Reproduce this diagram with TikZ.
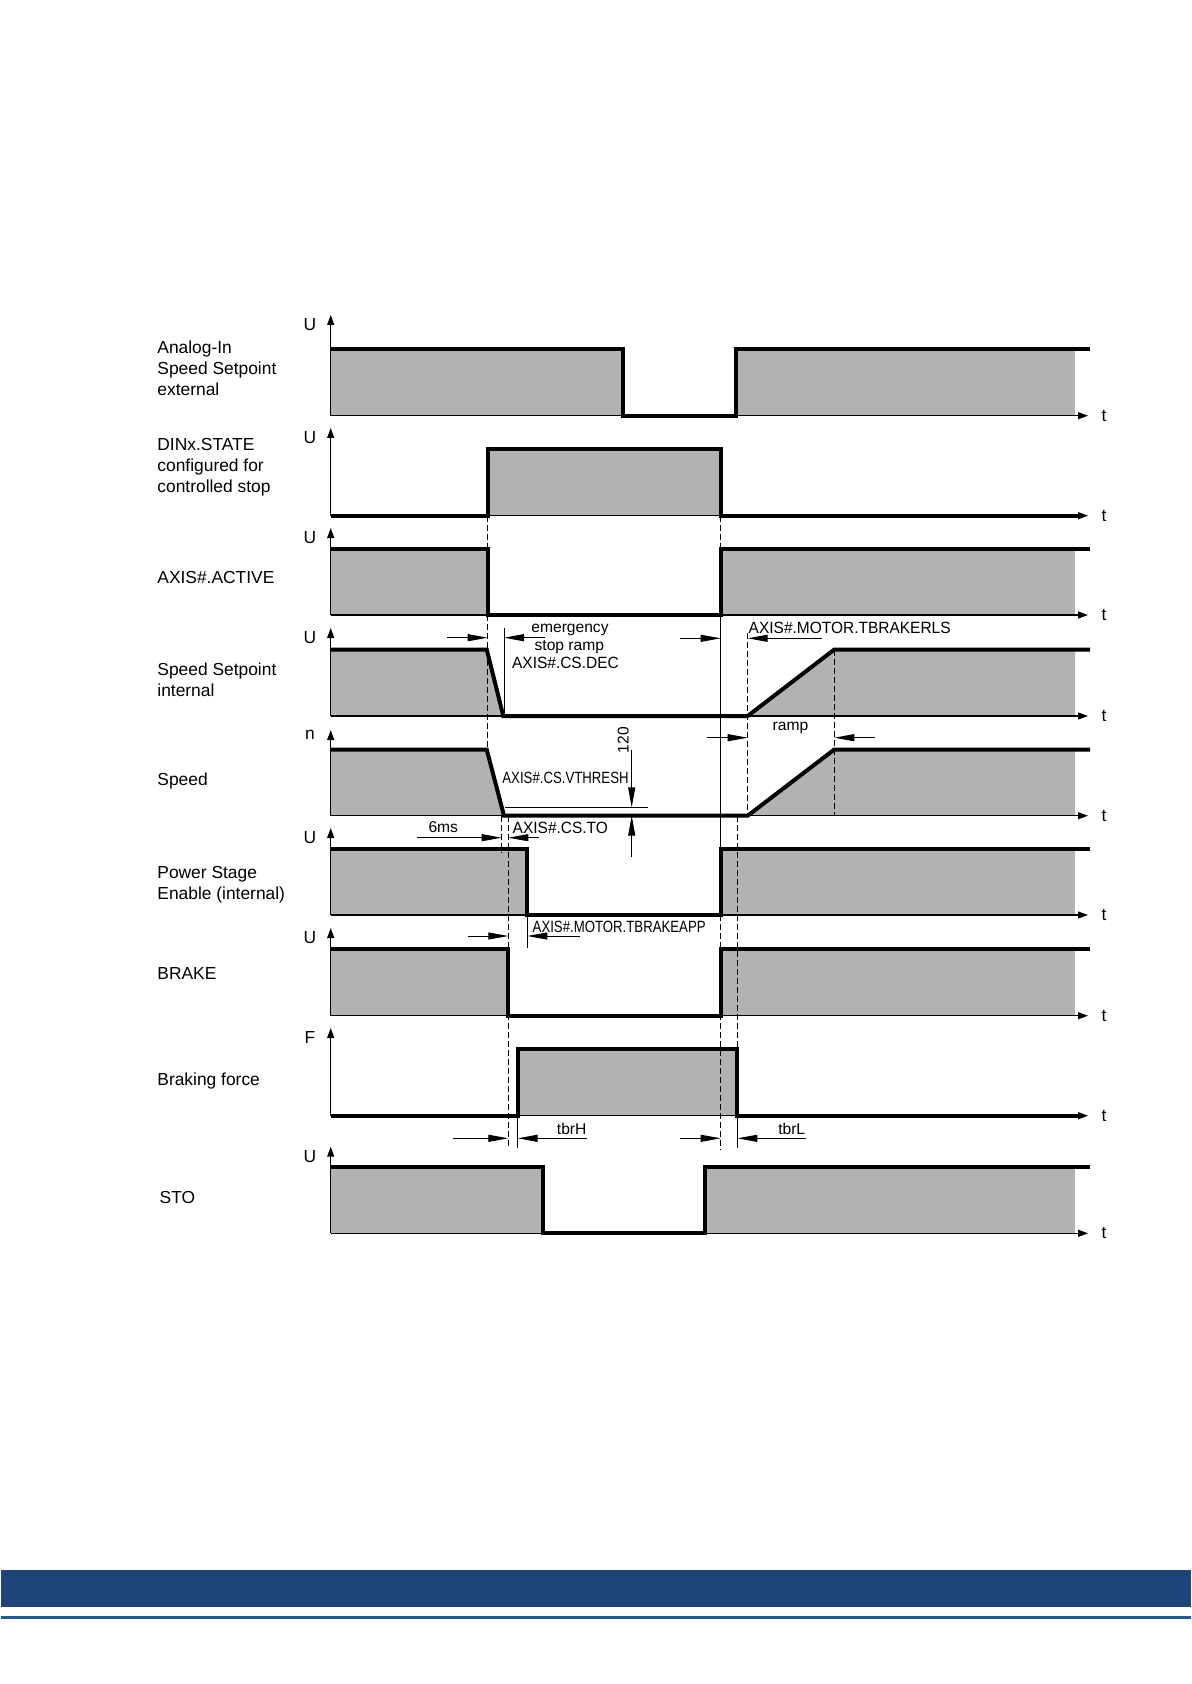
\documentclass[tikz,border=0pt]{standalone}
\usepackage{fontspec}
\setmainfont{Liberation Sans}
\newfontfamily\narrowfont[FakeStretch=0.81]{Liberation Sans}
\newfontfamily\semifont[FakeStretch=0.95]{Liberation Sans}
\usetikzlibrary{arrows.meta}
\definecolor{bandblue}{RGB}{31,68,121}
\definecolor{lineblue}{RGB}{30,92,154}

\begin{document}
\begin{tikzpicture}[x=0.5pt,y=-0.5pt,
  sig/.style={line width=2pt,line join=miter},
  ax/.style={line width=0.6pt,-{Triangle[length=5pt,width=3.5pt]}},
  dim/.style={line width=0.5pt,-{Triangle[length=10pt,width=3.5pt]}},
  ext/.style={line width=0.5pt},
  guide/.style={line width=0.5pt,dash pattern=on 3pt off 1.5pt},
  gr/.style={fill=black!30},
  lbl/.style={font=\fontsize{8.7}{10.4}\selectfont,inner sep=0pt},
  sml/.style={font=\fontsize{7.8}{8.6}\selectfont,inner sep=0pt},
  nrw/.style={font=\fontsize{8.15}{9.5}\selectfont\narrowfont,inner sep=0pt},
  smi/.style={font=\fontsize{8.15}{9.5}\selectfont\semifont,inner sep=0pt}]
\useasboundingbox (0,0) rectangle (1191,1684);

\fill[gr] (330.7,349) rectangle (623.3,415.7);
\fill[gr] (736,349) rectangle (1075,415.7);
\fill[gr] (487.7,449) rectangle (720.7,515.7);
\fill[gr] (330.7,549) rectangle (487.7,615);
\fill[gr] (720.7,549) rectangle (1075,615);
\fill[gr] (330.7,649.5) -- (486.7,649.5) -- (503.3,716) -- (330.7,716) -- cycle;
\fill[gr] (747.7,716) -- (834.3,649.5) -- (1075,649.5) -- (1075,716) -- cycle;
\fill[gr] (330.7,749.5) -- (486.7,749.5) -- (504,815.7) -- (330.7,815.7) -- cycle;
\fill[gr] (747.7,815.7) -- (834.3,749.5) -- (1075,749.5) -- (1075,815.7) -- cycle;
\fill[gr] (330.7,849) rectangle (527.3,915);
\fill[gr] (720.7,849) rectangle (1075,915);
\fill[gr] (330.7,949) rectangle (508.3,1015.7);
\fill[gr] (720.7,949) rectangle (1075,1015.7);
\fill[gr] (517.7,1049) rectangle (737.3,1115.7);
\fill[gr] (330.7,1166.7) rectangle (543.3,1233.3);
\fill[gr] (705,1166.7) rectangle (1075,1233.3);

\foreach \b/\tp/\ly/\q [count=\i] in {415.7/315/325/U,515.7/428/438/U,615/528/538/U,716/628/638/U,815.7/730/735/n,915/828/838/U,1015.7/928/938/U,1115.7/1028/1038/F,1233.3/1146.7/1156.7/U}{
  \draw[ax] (330.7,\b) -- (330.7,\tp);
  \draw[ax] (330.7,\b) -- (1088,\b);
  \node[lbl] (q\i) at (310,\ly) {\q};
  \node[lbl] (t\i) at (1104,\b) {t};
}

\draw[guide] (487.7,515.7) -- (487.7,750);
\draw[guide] (720.7,515.7) -- (720.7,549);
\draw[ext] (720.7,615) -- (720.7,849);
\draw[guide] (720.7,915) -- (720.7,1150);
\draw[guide] (747.7,633) -- (747.7,815.7);
\draw[guide] (834.3,649.5) -- (834.3,815.7);
\draw[guide] (737.3,815.7) -- (737.3,1049);
\draw[ext] (737.3,1115.7) -- (737.3,1148.3);
\draw[guide] (501.7,815.7) -- (501.7,852);
\draw[guide] (508.3,815.7) -- (508.3,1148.3);
\draw[ext] (504,628) -- (504,716);
\draw[ext] (527.3,915) -- (527.3,948.3);
\draw[ext] (517.7,1115.7) -- (517.7,1148.3);
\draw[ext] (505,807.3) -- (648.3,807.3);

\draw[sig] (330.7,349) -- (623.3,349) -- (623.3,415.7) -- (736,415.7) -- (736,349) -- (1090,349);
\draw[sig] (330.7,515.7) -- (487.7,515.7) -- (487.7,449) -- (720.7,449) -- (720.7,515.7) -- (1080,515.7);
\draw[sig] (330.7,549) -- (487.7,549) -- (487.7,615) -- (720.7,615) -- (720.7,549) -- (1090,549);
\draw[sig] (330.7,649.5) -- (486.7,649.5) -- (503.3,716) -- (747.7,716) -- (834.3,649.5) -- (1090,649.5);
\draw[sig] (330.7,749.5) -- (486.7,749.5) -- (504,815.7) -- (747.7,815.7) -- (834.3,749.5) -- (1090,749.5);
\draw[sig] (330.7,849) -- (527.3,849) -- (527.3,915) -- (720.7,915) -- (720.7,849) -- (1090,849);
\draw[sig] (330.7,949) -- (508.3,949) -- (508.3,1015.7) -- (720.7,1015.7) -- (720.7,949) -- (1090,949);
\draw[sig] (330.7,1115.7) -- (517.7,1115.7) -- (517.7,1049) -- (737.3,1049) -- (737.3,1115.7) -- (1080,1115.7);
\draw[sig] (330.7,1166.7) -- (543.3,1166.7) -- (543.3,1233.3) -- (705,1233.3) -- (705,1166.7) -- (1090,1166.7);

\draw[dim] (446.7,637.7) -- (487.7,637.7);
\draw[dim] (545,637.7) -- (504,637.7);
\draw[dim] (680,638.3) -- (720.7,638.3);
\draw[dim] (821.7,638.3) -- (747.7,638.3);
\draw[dim] (707.3,737.7) -- (747.7,737.7);
\draw[dim] (875,737.7) -- (834.3,737.7);
\draw[dim] (631.7,750) -- (631.7,807.3);
\draw[dim] (631.7,856.7) -- (631.7,815.7);
\draw[dim] (416.7,837.7) -- (501.7,837.7);
\draw[dim] (539,837.7) -- (508.3,837.7);
\draw[dim] (468.3,936) -- (508.3,936);
\draw[dim] (580,936) -- (527.3,936);
\draw[dim] (453.3,1138.3) -- (508.3,1138.3);
\draw[dim] (586.7,1138.3) -- (517.7,1138.3);
\draw[dim] (680,1138.3) -- (720.7,1138.3);
\draw[dim] (806,1138.3) -- (737.3,1138.3);

\node[lbl,anchor=west,align=left] (analog) at (157,368) {Analog-In\\Speed Setpoint\\external};
\node[lbl,anchor=west,align=left] (dinx) at (157,467.5) {DINx.STATE\\configured for\\controlled stop};
\node[lbl,anchor=west] (active) at (157,577.5) {AXIS\#.ACTIVE};
\node[lbl,anchor=west,align=left] (setint) at (157,679.5) {Speed Setpoint\\internal};
\node[lbl,anchor=west] (speed) at (157,780.5) {Speed};
\node[lbl,anchor=west,align=left] (power) at (157,884.5) {Power Stage\\Enable (internal)};
\node[lbl,anchor=west] (brake) at (157,974) {BRAKE};
\node[lbl,anchor=west] (bforce) at (157,1080.5) {Braking force};
\node[lbl,anchor=west] (sto) at (159.3,1197) {STO};

\node[sml] (emerg) at (570,630) {emergency};
\node[sml] (stopramp) at (569.3,647) {stop ramp};
\node[smi,anchor=west] (csdec) at (511.7,663) {AXIS\#.CS.DEC};
\node[smi,anchor=west] (tbrakerls) at (748.3,628) {AXIS\#.MOTOR.TBRAKERLS};
\node[sml] (ramp) at (790.5,727.5) {ramp};
\node[sml,rotate=90] (val) at (623.3,740) {120};
\node[nrw,anchor=east] (vthresh) at (629,778) {AXIS\#.CS.VTHRESH};
\node[sml] (sixms) at (443.3,827.3) {6ms};
\node[smi,anchor=west] (csto) at (512.3,827.7) {AXIS\#.CS.TO};
\node[nrw,anchor=west] (tbrakeapp) at (532.3,926.7) {AXIS\#.MOTOR.TBRAKEAPP};
\node[sml] (tbrh) at (571.7,1129.3) {tbrH};
\node[sml] (tbrl) at (791.7,1129.3) {tbrL};

\fill[bandblue] (1,1570) rectangle (1191,1607.3);
\draw[lineblue,line width=1.5pt] (1,1617.7) -- (1191,1617.7);
\end{tikzpicture}
\end{document}
